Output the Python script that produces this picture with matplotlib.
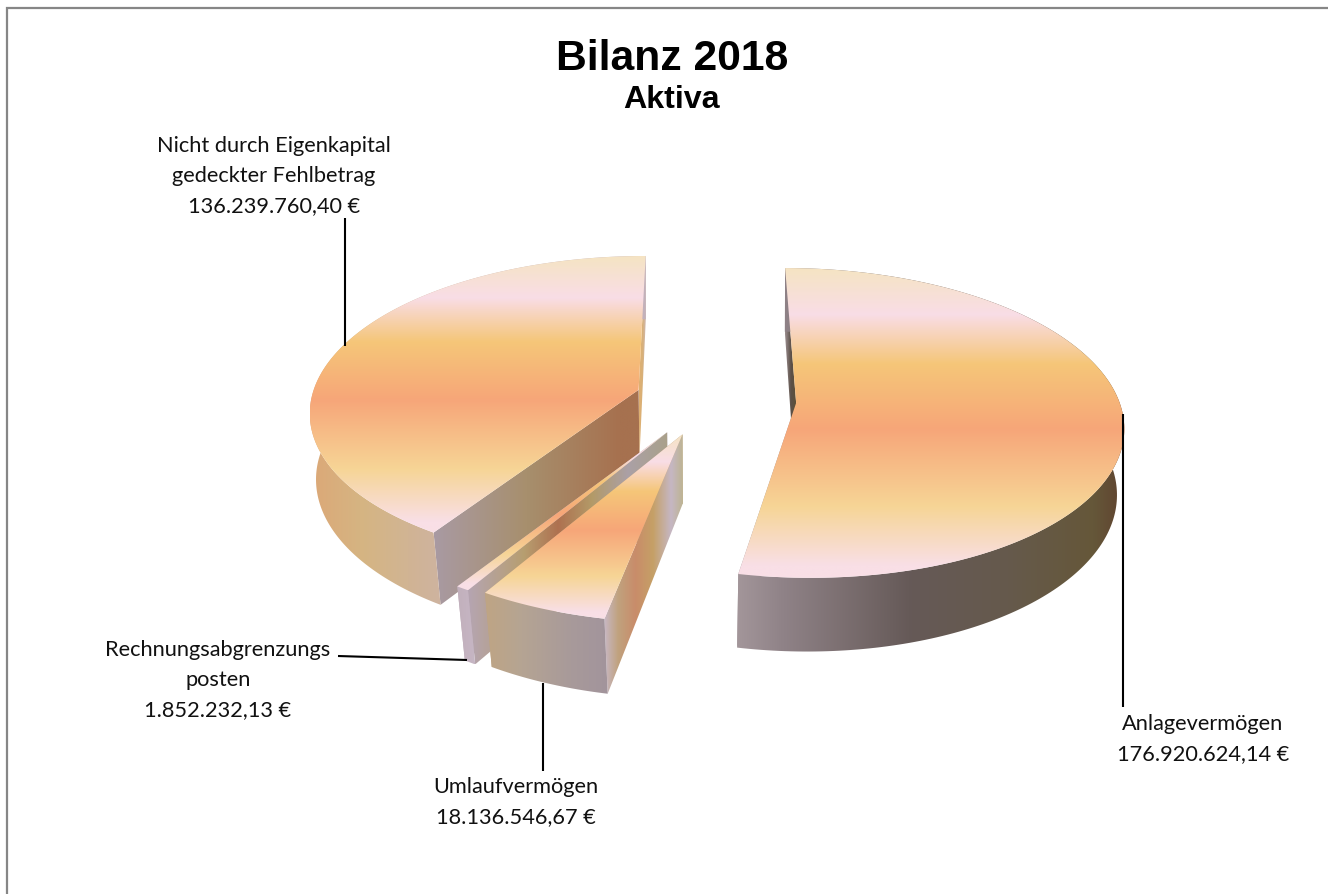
import numpy as np
import matplotlib
matplotlib.use('Agg')
import matplotlib.pyplot as plt
from matplotlib.colors import LinearSegmentedColormap
from matplotlib.patches import PathPatch
from matplotlib.path import Path

# Balance sheet positions, clockwise from 12 o'clock
NAMES = ['Anlagevermögen', 'Umlaufvermögen', 'Rechnungsabgrenzungs\nposten',
         'Nicht durch Eigenkapital\ngedeckter Fehlbetrag']
VALUES = [176920624.14, 18136546.67, 1852232.13, 136239760.40]
TITLE = 'Bilanz 2018'
SUBTITLE = 'Aktiva'

# Projection of the pie plane to pixels
VX, Y0 = 700.0, 402.0
TILT, PERSP = 0.47, 0.0004
RADII = [323.0, 328.0, 328.0, 328.0]
EXPLODE = [(96, 4), (-17, 69), (-32, 65), (-62, -24)]

TOP_STOPS = [(0.0, '#F5E4C3'), (0.15, '#F9DDE6'), (0.31, '#F5C678'), (0.52, '#F7A679'),
             (0.77, '#F6D596'), (0.96, '#F9DFE6'), (1.0, '#F9DFE6')]
OUTER_STOPS = [
    [(0, '#A3969A'), (0.12, '#8F8287'), (0.45, '#655957'), (0.7, '#665A4C'),
     (0.92, '#655739'), (1, '#60422F')],
    [(0, '#BFA584'), (0.3, '#B5A493'), (0.7, '#A89A9A'), (1, '#A2949C')],
    [(0, '#C2B0BC'), (1, '#C6B6C4')],
    [(0, '#DCA877'), (0.16, '#D5B583'), (0.42, '#CDB3A4'), (0.72, '#C6B1B5'), (1, '#C2B2BC')],
]
# first entry: face at the start angle, second: face at the end angle
RADIAL_STOPS = [
    ([(0, '#9C8F90'), (0.5, '#5C5048'), (1, '#5F5035')], [(0, '#A3969A'), (1, '#A3969A')]),
    ([(0, '#C8B8C6'), (0.18, '#C0A27E'), (0.4, '#C98C6A'), (0.62, '#C5A066'),
      (0.85, '#C6B7C4'), (1, '#BDB492')], [(0, '#BFA584'), (1, '#BFA584')]),
    ([(0, '#B5A5B2'), (0.28, '#B79E70'), (0.45, '#AE7150'), (0.62, '#B39A68'),
      (0.8, '#ABA0A6'), (1, '#A9A18A')], [(0, '#C2B0BC'), (1, '#C2B0BC')]),
    ([(0, '#A99AA3'), (0.45, '#A78F6D'), (0.9, '#A6714F'), (1, '#A6714F')],
     [(0, '#E0B070'), (0.45, '#D8B078'), (1, '#CBBBC4')]),
]


def project(x, z):
    s = 1.0 / (1.0 - PERSP * z)
    return VX + x * s, Y0 + TILT * z * s, s


def lower(px, py, s):
    # point on the underside of the slab, directly below a top point
    shrink = 0.985 - 0.10 * (s - 1.0)
    return VX + (px - VX) * shrink, py + 30.0 + 38.0 * s


def fill_gradient(ax, verts, stops, vertical=False):
    verts = np.asarray(verts)
    x0, x1 = verts[:, 0].min(), verts[:, 0].max()
    y0, y1 = verts[:, 1].min(), verts[:, 1].max()
    cmap = LinearSegmentedColormap.from_list('face', stops, N=512)
    ramp = np.linspace(0, 1, 512)
    ramp = ramp.reshape(-1, 1) if vertical else ramp.reshape(1, -1)
    patch = PathPatch(Path(np.vstack([verts, verts[0]]), closed=True), fc='none', ec='none',
                      transform=ax.transData)
    ax.add_patch(patch)
    im = ax.imshow(ramp, cmap=cmap, vmin=0, vmax=1, aspect='auto', origin='upper',
                   extent=(x0, x1, y1, y0), interpolation='bilinear', zorder=2)
    im.set_clip_path(patch)


def draw_slice(ax, start, end, radius, offset, outer_stops, radial_stops):
    dx, dz = offset
    ax0, az0, as0 = project(dx, dz)
    apex_top = (ax0, az0)
    apex_bot = lower(ax0, az0, as0)

    th = np.radians(np.linspace(start, end, 200))
    wx = dx + radius * np.sin(th)
    wz = dz - radius * np.cos(th)
    px, py, ps = project(wx, wz)
    bx, by = lower(px, py, ps)
    rim_top = np.column_stack([px, py])
    rim_bot = np.column_stack([bx, by])

    # radial walls first, then the outer wall, the top face last
    for i, stops in ((-1, radial_stops[1]), (0, radial_stops[0])):
        fill_gradient(ax, [apex_top, rim_top[i], rim_bot[i], apex_bot], stops)
    fill_gradient(ax, np.vstack([rim_top, rim_bot[::-1]]), outer_stops)
    fill_gradient(ax, np.vstack([[apex_top], rim_top]), TOP_STOPS, vertical=True)


def euro(v):
    return f'{v:,.2f}'.replace(',', 'X').replace('.', ',').replace('X', '.') + ' €'


fig = plt.figure(figsize=(13.28, 8.95), dpi=100, facecolor='white')
ax = fig.add_axes([0, 0, 1, 1])

# frame line along the left and top edge
ax.plot([7, 7, 1328], [895, 9, 9], color='#868686', lw=1.6, zorder=1, solid_joinstyle='miter')

angles = np.cumsum([0] + VALUES) / sum(VALUES) * 360
for i in (3, 2, 1, 0):
    draw_slice(ax, angles[i], angles[i + 1], RADII[i], EXPLODE[i], OUTER_STOPS[i], RADIAL_STOPS[i])

# leader lines
leader = dict(color='black', lw=1.5, zorder=5, solid_capstyle='butt')
ax.plot([1122.5, 1122.5], [415, 708], **leader)
ax.plot([542.5, 542.5], [684, 772], **leader)
ax.plot([338, 467], [657, 661], **leader)
ax.plot([344.5, 344.5], [347, 219], **leader)

txt = dict(family='Lato', fontsize=15.7, color='#111111', ha='center', va='center',
           linespacing=1.64, zorder=6)
ax.text(1203, 739, f'{NAMES[0]}\n{euro(VALUES[0])}', **txt)
ax.text(516, 802, f'{NAMES[1]}\n{euro(VALUES[1])}', **txt)
ax.text(218, 680, f'{NAMES[2]}\n{euro(VALUES[2])}', **txt)
ax.text(274, 176, f'{NAMES[3]}\n{euro(VALUES[3])}', **txt)

ax.text(672, 59, TITLE, family='Liberation Sans', fontweight='bold', fontsize=30.7,
        ha='center', va='center', color='black')
ax.text(672, 100, SUBTITLE, family='Liberation Sans', fontweight='bold', fontsize=23.2,
        ha='center', va='center', color='black')

ax.set_xlim(0, 1328)
ax.set_ylim(895, 0)
ax.axis('off')

fig.savefig('out.png', dpi=100)
plt.close(fig)
